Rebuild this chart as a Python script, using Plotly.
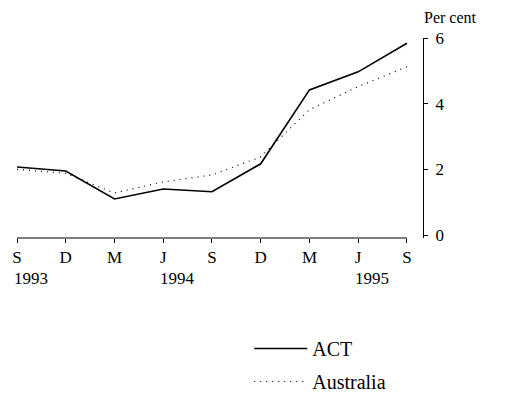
import plotly.graph_objects as go

quarters = ["S", "D", "M", "J", "S", "D", "M", "J", "S"]
years = ["1993", "1994", "1995"]
year_pos = [0, 3, 7]
act = [2.07, 1.95, 1.10, 1.40, 1.32, 2.17, 4.42, 4.97, 5.84]
australia = [2.00, 1.88, 1.28, 1.62, 1.83, 2.38, 3.82, 4.52, 5.12]
x = list(range(len(quarters)))

FONT = "Liberation Serif, Times New Roman, serif"

fig = go.Figure()
fig.add_trace(go.Scatter(x=x, y=act, mode="lines", name="ACT",
                         line=dict(color="black", width=1.6),
                         legendgroup="a"))
fig.add_trace(go.Scatter(x=x, y=australia, mode="lines", name="Australia",
                         line=dict(color="black", width=1.2, dash="1px,5px"),
                         legendgroup="b"))

for yr, p in zip(years, year_pos):
    fig.add_annotation(x=p, y=0, xref="x", yref="paper", text=yr,
                       showarrow=False, xanchor="left", yanchor="top",
                       xshift=-5, yshift=-29,
                       font=dict(family=FONT, size=17, color="black"))

fig.add_annotation(x=1, y=1, xref="paper", yref="paper", text="Per cent",
                   showarrow=False, xanchor="left", yanchor="bottom",
                   xshift=-1, yshift=10,
                   font=dict(family=FONT, size=16, color="black"))

fig.add_shape(type="line", x0=0, x1=8, y0=0, y1=0, xref="x", yref="paper",
              line=dict(color="black", width=1.2))

fig.update_layout(
    width=509, height=414,
    margin=dict(l=9, r=94, t=30, b=184, autoexpand=False),
    paper_bgcolor="white", plot_bgcolor="white",
    font=dict(family=FONT, size=17, color="black"),
    showlegend=True,
    legend=dict(x=0.572, y=-0.455, xanchor="left", yanchor="top",
                traceorder="grouped", tracegroupgap=4, itemwidth=53,
                font=dict(family=FONT, size=20, color="black"),
                bgcolor="rgba(0,0,0,0)"),
    xaxis=dict(range=[0, 8.33], tickvals=x, ticktext=quarters,
               showgrid=False, zeroline=False, showline=False, automargin=False,
               ticks="outside", ticklen=4, tickcolor="black", tickwidth=1.2),
    yaxis=dict(range=[-0.09, 6.0], side="right", tickvals=[0, 2, 4, 6],
               showgrid=False, zeroline=False, showline=True, automargin=False,
               linecolor="black", linewidth=1.2,
               ticks="outside", ticklen=4, tickcolor="black", tickwidth=1.2,
               ticklabelstandoff=4),
)

fig.write_html("out.html")
